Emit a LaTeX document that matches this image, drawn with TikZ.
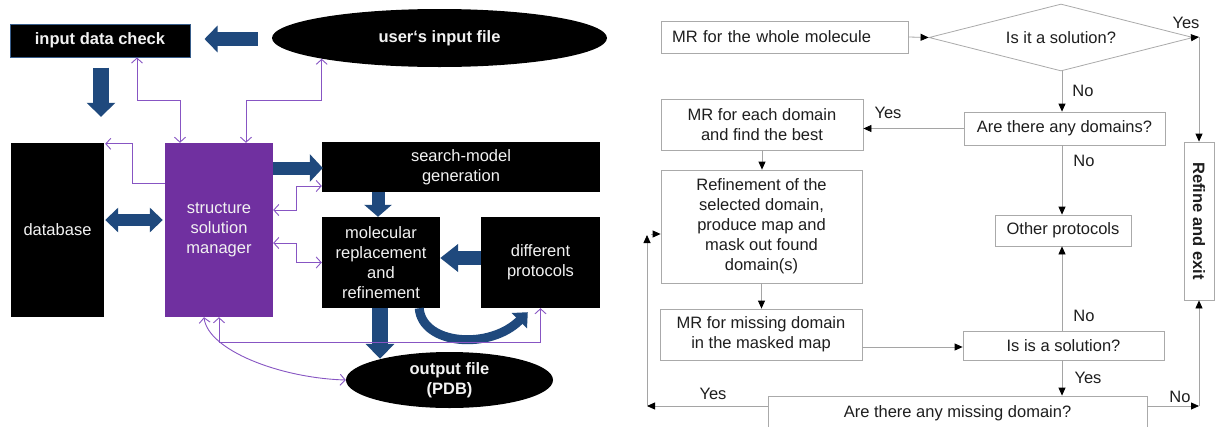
\documentclass[tikz,border=0pt]{standalone}
\usepackage{fontspec}
\setmainfont{Liberation Sans}
\usetikzlibrary{arrows.meta,shapes.geometric,calc}
\definecolor{bluearr}{RGB}{31,73,125}
\definecolor{purp}{RGB}{112,48,160}
\definecolor{purpline}{RGB}{135,85,195}
\definecolor{grayline}{RGB}{165,165,165}
\definecolor{grayborder}{RGB}{170,170,170}
\definecolor{txt}{RGB}{30,30,30}
\definecolor{textw}{RGB}{242,242,242}
\definecolor{idcborder}{RGB}{56,93,138}
\newcommand\fsz{\fontsize{16.5}{20}\selectfont}
\tikzset{
  blk/.style={rectangle, fill=black, text=textw},
  bx/.style={rectangle, draw=grayborder, line width=0.8pt, text=txt},
  lbl/.style={text=txt},
  ra/.style={draw=grayline, line width=0.8pt, -{Triangle[length=8pt,width=7pt,color=black]}},
  pcb/.style={draw=purpline, line width=0.9pt, {Straight Barb[length=5pt,width=11pt]}-{Straight Barb[length=5pt,width=11pt]}},
  pce/.style={draw=purpline, line width=0.9pt, -{Straight Barb[length=5pt,width=11pt]}},
  bt/.style n args={3}{draw=bluearr, line width=#1, -{Triangle[width=#2,length=#3]}},
  bd/.style n args={3}{draw=bluearr, line width=#1, {Triangle[width=#2,length=#3]}-{Triangle[width=#2,length=#3]}}
}
\begin{document}
\begin{tikzpicture}[x=1pt,y=-1pt,
  every node/.style={font=\fsz, inner sep=0pt, align=center}]
\clip (0,0) rectangle (1215,426);
\fill[white] (0,0) rectangle (1215,426);

% ---------- left diagram ----------
\node[blk, draw=idcborder, line width=1pt, minimum width=180pt, minimum height=33pt, font=\fsz\bfseries] (idc) at (100,40.5) {input data check};
\node[blk, ellipse, minimum width=335pt, minimum height=58pt, font=\fsz\bfseries] (uif) at (439.5,38) {user‘s input file};
\node[blk, minimum width=93pt, minimum height=174pt] (db) at (57.5,230) {database};
\node[rectangle, fill=purp, text=textw, minimum width=108pt, minimum height=174pt] (ssm) at (219,230) {structure\\solution\\manager};
\node[blk, minimum width=278pt, minimum height=50pt] (smg) at (461,167) {search-model\\generation};
\node[blk, minimum width=118pt, minimum height=91pt] (mol) at (381,262.5) {molecular\\replacement\\and\\refinement};
\node[blk, minimum width=119pt, minimum height=91pt] (dp) at (540.5,262.5) {different\\protocols};
\node[blk, ellipse, minimum width=207pt, minimum height=56pt, font=\fsz\bfseries] (out) at (449.5,380) {output file\\(PDB)};

% block arrows
\draw[bt={14pt}{26pt}{13pt}] ($(uif.west)+(-14,1)$) -- ($(idc.east)+(14,-1.5)$);
\draw[bt={16pt}{28pt}{14pt}] ($(idc.south)+(1,10)$) -- ($(db.north)+(43.5,-26)$);
\draw[bd={12pt}{24pt}{13pt}] ($(db.east)+(1,-10)$) -- ($(ssm.west)+(-2,-10)$);
\draw[bt={13pt}{27pt}{13pt}] ($(ssm.east)+(0,-62)$) -- ($(smg.west)+(1,1)$);
\draw[bt={13pt}{27pt}{12pt}] ($(smg.south)+(-83,0)$) -- ($(mol.north)+(-3,0)$);
\draw[bt={14pt}{27pt}{18pt}] ($(dp.west)+(0,-4.5)$) -- ($(mol.east)+(0,-4.5)$);
\draw[bt={16pt}{28pt}{15pt}] ($(mol.south)+(-1,0)$) -- ($(mol.south |- out.north)+(-1,7)$);
\draw[draw=bluearr, line width=9pt, -{Triangle[width=21pt,length=12pt]}]
  ($(mol.south east)+(-21,0)$) .. controls +(3,37) and +(-38,38) .. ($(dp.south west)+(47,4)$);

% purple connectors
\coordinate (h100) at (0,100);
\draw[pcb] ($(idc.south)+(37,0)$) -- ++(0,43) -| ($(ssm.north)+(-39,0)$);
\draw[pcb] (uif.190) -- (uif.190 |- h100) -| ($(ssm.north)+(27,0)$);
\draw[pce] ($(ssm.west)+(0,-47)$) -- ++(-32,0) |- ($(db.north east)+(1,1)$);
\draw[pcb] ($(ssm.east)+(0,-20)$) -- ++(23,0) |- ($(smg.west)+(0,19)$);
\draw[pcb] ($(ssm.east)+(0,13)$) -- ++(23,0) |- (mol.west);
\draw[pcb] (ssm.south) -- ++(0,25) -| (dp.south);
\draw[pcb] ($(ssm.south)+(-15,0)$) .. controls +(4,33) and +(-66,-2) .. (out.west);

% ---------- right diagram ----------
\node[bx, minimum width=247pt, minimum height=32pt, text width=225pt, align=left] (A) at (784.5,37) {MR for the whole molecule};
\node[bx, diamond, aspect=4, minimum width=264pt, minimum height=67pt] (dia) at (1061,37.5) {Is it a solution?};
\node[bx, minimum width=201pt, minimum height=33pt] (B) at (1064.5,128.5) {Are there any domains?};
\node[bx, minimum width=202pt, minimum height=51pt] (C) at (762,124.5) {MR for each domain\\and find the best};
\node[bx, minimum width=201pt, minimum height=113pt] (D) at (761.5,226.5) {Refinement of the\\selected domain,\\produce map and\\mask out found\\domain(s)};
\node[bx, minimum width=136pt, minimum height=31pt] (E) at (1063,230.5) {Other protocols};
\node[bx, rotate=-90, minimum width=158pt, minimum height=30pt, font=\fsz\bfseries] (R) at (1199,221) {Refine and exit};
\node[bx, minimum width=202pt, minimum height=51pt] (F) at (761,334.5) {MR for missing domain\\in the masked map};
\node[bx, minimum width=201pt, minimum height=29pt] (G) at (1063.5,345.5) {Is is a solution?};
\node[bx, minimum width=379pt, minimum height=34pt] (H) at (957.5,413) {Are there any missing domain?};

\coordinate (vx) at (1062,0);
\coordinate (cy) at (1199,37);
\coordinate (cl) at (647,406);
\coordinate (clt) at (647,235);
\coordinate (cd) at (651,234);
\coordinate (cr) at (1199,406);

\draw[ra] (A.east) -- (dia.west);
\draw[ra] (dia.east) -- (cy);
\draw[ra] (cy) -- (R.west);
\draw[ra] (vx |- dia.south) -- (vx |- B.north);
\draw[ra] (B.west) -- (B.west -| C.east);
\draw[ra] (C.south) -- (C.south |- D.north);
\draw[ra] (vx |- B.south) -- (vx |- E.north);
\draw[ra] (D.south) -- (D.south |- F.north);
\draw[ra] ($(G.west -| F.east)+(0,1.5)$) -- ($(G.west)+(0,1.5)$);
\draw[ra] (vx |- G.north) -- (vx |- E.south);
\draw[ra] (vx |- G.south) -- (vx |- H.north);
\draw[ra] (H.west |- cl) -- (cl);
\draw[ra] (cl) -- (clt);
\draw[ra] (cd) -- (cd -| D.west);
\draw[ra] (H.east |- cr) -- (cr);
\draw[ra] (cr) -- (R.east);

\node[lbl] (l1) at (1186,23) {Yes};
\node[lbl] (l2) at (1083,91) {No};
\node[lbl] (l3) at (888,113) {Yes};
\node[lbl] (l4) at (1084,161) {No};
\node[lbl] (l5) at (1084,316) {No};
\node[lbl] (l6) at (1088,378) {Yes};
\node[lbl] (l7) at (713,394) {Yes};
\node[lbl] (l8) at (1180,397) {No};
\end{tikzpicture}
\end{document}
